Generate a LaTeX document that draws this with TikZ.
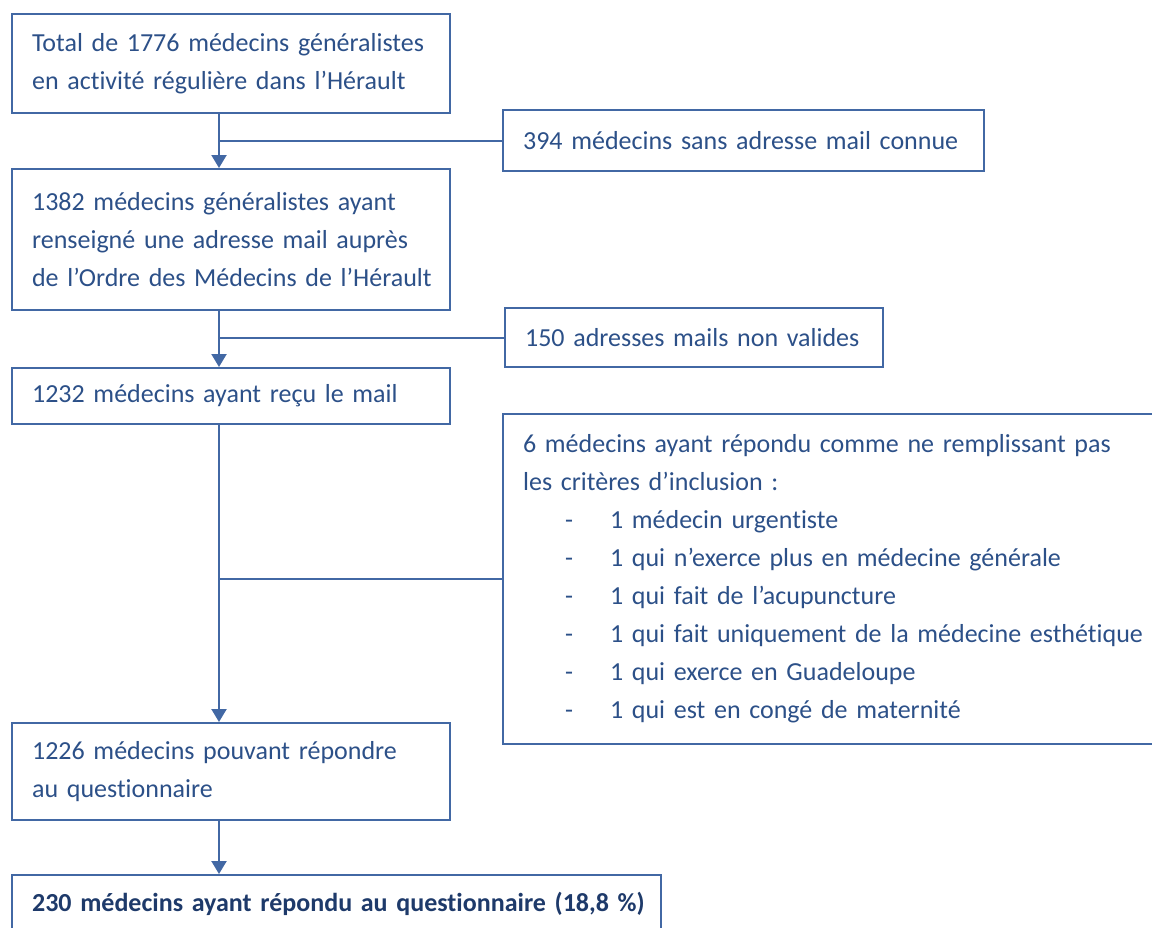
\documentclass[tikz,border=0pt]{standalone}
\usepackage{fontspec}
\setmainfont[Ligatures=NoCommon]{Carlito}
\usetikzlibrary{arrows.meta}
\definecolor{txtblue}{RGB}{44,80,136}
\definecolor{boldblue}{RGB}{30,58,106}
\definecolor{lineblue}{RGB}{66,104,164}
\tikzset{
  box/.style={draw=lineblue, line width=2.2pt, anchor=north west, inner xsep=20pt, inner ysep=0pt,
    align=left, text=txtblue, font=\fontsize{26}{38}\selectfont},
  link/.style={draw=lineblue, line width=2.2pt},
  arrowlink/.style={link, -{Triangle[width=15pt,length=13pt]}}
}
\newcommand{\itm}[1]{\mbox{\makebox[87pt][l]{\hspace*{42pt}-}#1}}
\begin{document}
\begin{tikzpicture}[x=1pt,y=-1pt]
\useasboundingbox (0,0) rectangle (1152,927);
\node[box, text width=398pt, minimum width=438pt, minimum height=99pt] (b1) at (11,13)
  {\mbox{Total de 1776 médecins généralistes}\\\mbox{en activité régulière dans l’Hérault}};
\node[box, text width=441pt, minimum width=481pt, minimum height=61pt] (m1) at (502,109)
  {\mbox{394 médecins sans adresse mail connue}};
\node[box, text width=398pt, minimum width=438pt, minimum height=141pt] (b2) at (11,168)
  {\mbox{1382 médecins généralistes ayant}\\\mbox{renseigné une adresse mail auprès}\\\mbox{de l’Ordre des Médecins de l’Hérault}};
\node[box, text width=338pt, minimum width=378pt, minimum height=59pt] (m2) at (504,307)
  {\mbox{150 adresses mails non valides}};
\node[box, text width=398pt, minimum width=438pt, minimum height=56pt] (b3) at (11,367)
  {\mbox{1232 médecins ayant reçu le mail}};
\node[box, text width=620pt, minimum width=660pt, minimum height=330pt] (m3) at (502,413)
  {\mbox{6 médecins ayant répondu comme ne remplissant pas}\\\mbox{les critères d’inclusion :}\\
   \itm{1 médecin urgentiste}\\
   \itm{1 qui n’exerce plus en médecine générale}\\
   \itm{1 qui fait de l’acupuncture}\\
   \itm{1 qui fait uniquement de la médecine esthétique}\\
   \itm{1 qui exerce en Guadeloupe}\\
   \itm{1 qui est en congé de maternité}};
\node[box, text width=398pt, minimum width=438pt, minimum height=97pt] (b4) at (11,722)
  {\mbox{1226 médecins pouvant répondre}\\\mbox{au questionnaire}};
\node[box, text width=609pt, minimum width=649pt, minimum height=58pt, inner xsep=19pt, text=boldblue, font=\fontsize{26}{38}\selectfont\bfseries] (b5) at (11,874)
  {\mbox{230 médecins ayant répondu au questionnaire (18,8~\%)}};
\coordinate (s1) at ([xshift=208pt]b1.south west);
\coordinate (s2) at ([xshift=208pt]b2.south west);
\coordinate (s3) at ([xshift=208pt]b3.south west);
\coordinate (s4) at ([xshift=208pt]b4.south west);
\coordinate (j1) at (s1 |- m1.west);
\coordinate (j2) at (s2 |- m2.west);
\coordinate (j3) at (s3 |- m3.west);
\draw[arrowlink] (s1) -- (s1 |- b2.north);
\draw[link] (j1) -- (m1.west);
\draw[arrowlink] (s2) -- (s2 |- b3.north);
\draw[link] (j2) -- (m2.west);
\draw[arrowlink] (s3) -- (s3 |- b4.north);
\draw[link] (j3) -- (m3.west);
\draw[arrowlink] (s4) -- (s4 |- b5.north);
\end{tikzpicture}
\end{document}
